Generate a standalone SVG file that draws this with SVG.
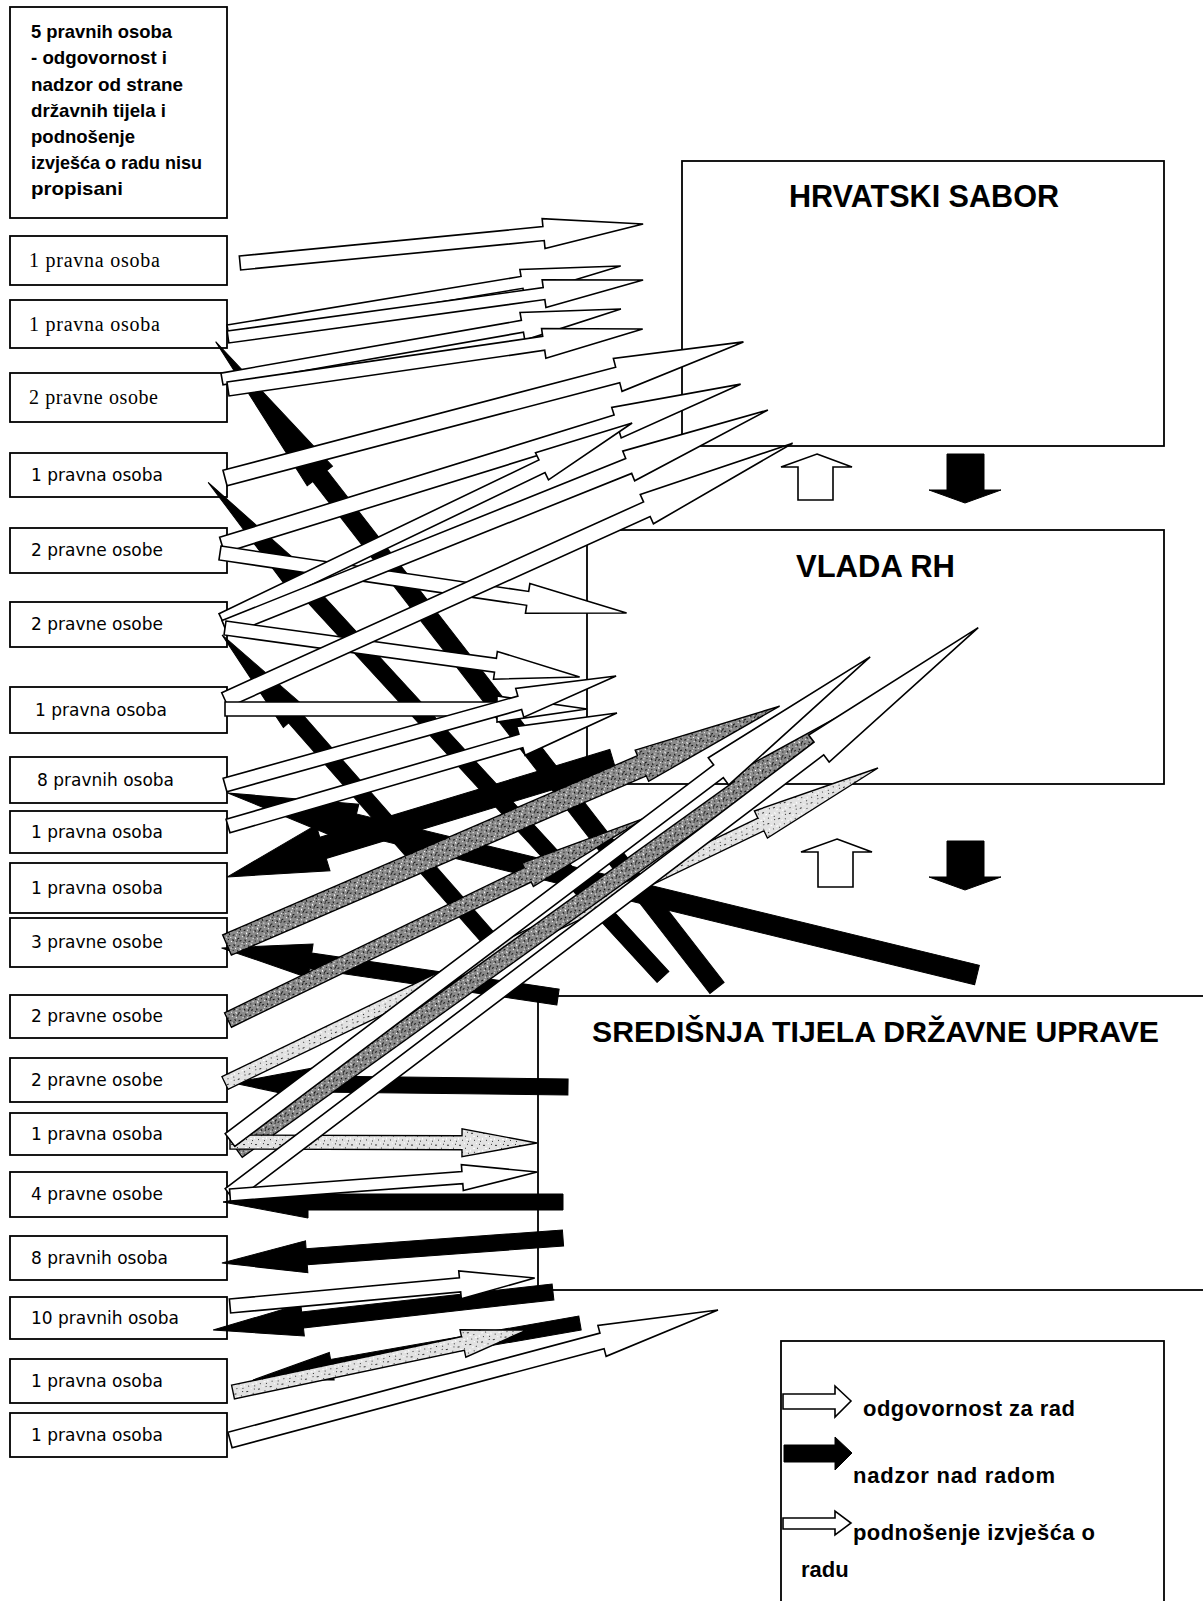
<svg xmlns="http://www.w3.org/2000/svg" width="1203" height="1601" viewBox="0 0 1203 1601">
<defs>
<style>
.bx{fill:#fff;stroke:#000;stroke-width:1.8}
.w{fill:#fff;stroke:#000;stroke-width:1.6;stroke-linejoin:miter}
.b{fill:#000;stroke:#000;stroke-width:1}
.gd{fill:url(#dk);stroke:#000;stroke-width:1.4}
.gl{fill:url(#lt);stroke:#000;stroke-width:1.4}
.serif{font-family:"Liberation Serif","Times New Roman",serif;font-size:20px;fill:#000}
.sans{font-family:"DejaVu Sans","Noto Sans",sans-serif;font-size:17px;fill:#000}
.bold{font-family:"Liberation Sans",Arial,sans-serif;font-weight:bold;fill:#000}
</style>
<pattern id="dk" width="12" height="12" patternUnits="userSpaceOnUse">
<rect width="12" height="12" fill="#8a8a8a"/>
<path d="M1 1h2v1H1zM6 2h1v2H6zM9 5h2v1H9zM3 7h1v1H3zM0 10h2v1H0zM7 9h1v2H7zM10 0h1v1h-1zM4 4h1v1H4zM11 11h1v1h-1z" fill="#111"/>
<path d="M2 4h1v1H2zM8 1h1v1H8zM5 10h1v1H5zM10 8h1v2h-1zM0 6h1v1H0zM6 6h1v1H6z" fill="#fff"/>
</pattern>
<pattern id="lt" width="12" height="12" patternUnits="userSpaceOnUse">
<rect width="12" height="12" fill="#e2e2e2"/>
<path d="M1 2h2v1H1zM7 5h1v1H7zM4 9h1v1H4zM10 10h1v1h-1zM9 1h1v1H9z" fill="#333"/>
<path d="M3 5h2v1H3zM8 8h2v1H8zM0 7h1v2H0zM6 0h1v1H6z" fill="#fff"/>
</pattern>
</defs>
<rect width="1203" height="1601" fill="#fff"/>

<g id="hrvatski-sabor">
<rect class="bx" x="682" y="161" width="482" height="285"/>
<text class="bold" x="789" y="207" font-size="31" textLength="270" lengthAdjust="spacingAndGlyphs">HRVATSKI SABOR</text>
</g>
<g id="vlada-rh">
<rect class="bx" x="587" y="530" width="577" height="254"/>
<text class="bold" x="796" y="577" font-size="31" textLength="159" lengthAdjust="spacingAndGlyphs">VLADA RH</text>
</g>
<g id="sredisnja-tijela">
<rect class="bx" x="538" y="996" width="700" height="294"/>
<text class="bold" x="592" y="1042" font-size="30" textLength="567" lengthAdjust="spacingAndGlyphs">SREDIŠNJA TIJELA DRŽAVNE UPRAVE</text>
</g>

<g id="n-top">
<rect class="bx" x="10" y="7" width="217" height="211"/>
<g class="bold" font-size="18.5" lengthAdjust="spacingAndGlyphs">
<text x="31" y="38" textLength="141" lengthAdjust="spacingAndGlyphs">5 pravnih osoba</text>
<text x="31" y="64" textLength="136" lengthAdjust="spacingAndGlyphs">- odgovornost i</text>
<text x="31" y="91" textLength="152" lengthAdjust="spacingAndGlyphs">nadzor od strane</text>
<text x="31" y="117" textLength="135" lengthAdjust="spacingAndGlyphs">državnih tijela i</text>
<text x="31" y="143" textLength="104" lengthAdjust="spacingAndGlyphs">podnošenje</text>
<text x="31" y="169" textLength="171" lengthAdjust="spacingAndGlyphs">izvješća o radu nisu</text>
<text x="31" y="195" textLength="92" lengthAdjust="spacingAndGlyphs">propisani</text>
</g>
</g>
<g id="n2"><rect class="bx" x="10" y="236" width="217" height="49"/><text class="serif" x="29" y="267" textLength="131">1 pravna osoba</text></g>
<g id="n3"><rect class="bx" x="10" y="300" width="217" height="48"/><text class="serif" x="29" y="331" textLength="131">1 pravna osoba</text></g>
<g id="n4"><rect class="bx" x="10" y="373" width="217" height="49"/><text class="serif" x="29" y="404" textLength="129">2 pravne osobe</text></g>
<g id="n5"><rect class="bx" x="10" y="453" width="217" height="44"/><text class="sans" x="31" y="481">1 pravna osoba</text></g>
<g id="n6"><rect class="bx" x="10" y="528" width="217" height="45"/><text class="sans" x="31" y="556">2 pravne osobe</text></g>
<g id="n7"><rect class="bx" x="10" y="602" width="217" height="45"/><text class="sans" x="31" y="630">2 pravne osobe</text></g>
<g id="n8"><rect class="bx" x="10" y="687" width="217" height="46"/><text class="sans" x="35" y="716">1 pravna osoba</text></g>
<g id="n9"><rect class="bx" x="10" y="757" width="217" height="46"/><text class="sans" x="37" y="786">8 pravnih osoba</text></g>
<g id="n10"><rect class="bx" x="10" y="811" width="217" height="42"/><text class="sans" x="31" y="838">1 pravna osoba</text></g>
<g id="n11"><rect class="bx" x="10" y="863" width="217" height="50"/><text class="sans" x="31" y="894">1 pravna osoba</text></g>
<g id="n12"><rect class="bx" x="10" y="918" width="217" height="49"/><text class="sans" x="31" y="948">3 pravne osobe</text></g>
<g id="n13"><rect class="bx" x="10" y="995" width="217" height="43"/><text class="sans" x="31" y="1022">2 pravne osobe</text></g>
<g id="n14"><rect class="bx" x="10" y="1058" width="217" height="44"/><text class="sans" x="31" y="1086">2 pravne osobe</text></g>
<g id="n15"><rect class="bx" x="10" y="1113" width="217" height="42"/><text class="sans" x="31" y="1140">1 pravna osoba</text></g>
<g id="n16"><rect class="bx" x="10" y="1172" width="217" height="45"/><text class="sans" x="31" y="1200">4 pravne osobe</text></g>
<g id="n17"><rect class="bx" x="10" y="1236" width="217" height="44"/><text class="sans" x="31" y="1264">8 pravnih osoba</text></g>
<g id="n18"><rect class="bx" x="10" y="1297" width="217" height="42"/><text class="sans" x="31" y="1324">10 pravnih osoba</text></g>
<g id="n19"><rect class="bx" x="10" y="1359" width="217" height="44"/><text class="sans" x="31" y="1387">1 pravna osoba</text></g>
<g id="n20"><rect class="bx" x="10" y="1413" width="217" height="44"/><text class="sans" x="31" y="1441">1 pravna osoba</text></g>

<g id="legend">
<rect class="bx" x="781" y="1341" width="383" height="300"/>
<path class="w" d="M783,1394H835V1386L851,1401L835,1417V1409H783Z"/>
<path class="b" d="M784,1445H835V1437L852,1453L835,1470V1462H784Z"/>
<path class="w" d="M783,1518H835V1511L851,1523L835,1535V1529H783Z"/>
<text class="bold" x="863" y="1416" font-size="22" textLength="212">odgovornost za rad</text>
<text class="bold" x="853" y="1483" font-size="22" textLength="202">nadzor nad radom</text>
<text class="bold" x="853" y="1540" font-size="22" textLength="242">podnošenje izvješća o</text>
<text class="bold" x="801" y="1577" font-size="22">radu</text>
</g>

<g id="connectors">
<path class="w" d="M817,454L852,467H833V500H798V467H781Z"/>
<path class="b" d="M947,454H984V490H1001L965,503L929,490H947Z"/>
<path class="w" d="M837,839L872,852H853V887H818V852H801Z"/>
<path class="b" d="M947,841H984V877H1001L965,890L929,877H947Z"/>

<path class="b" transform="translate(717 988) rotate(-127.8)" d="M0,-9H648V-16L818,0L648,16V9H0Z"/>
<path class="b" transform="translate(663 977) rotate(-132.6)" d="M0,-8H522V-15L672,0L522,15V8H0Z"/>
<path class="b" transform="translate(490 940) rotate(-131.3)" d="M0,-8H296V-15L406,0L296,15V8H0Z"/>
<path class="b" transform="translate(613 760) rotate(163.14)" d="M0,-11H303V-24L403,0L303,24V11H0Z"/>
<path class="b" transform="translate(558 997) rotate(-171.7)" d="M0,-8H250V-17L340,0L250,17V8H0Z"/>
<path class="b" transform="translate(977 975) rotate(-166.34)" d="M0,-10H641V-20L771,0L641,20V10H0Z"/>
<path class="b" transform="translate(568 1087) rotate(-179.3)" d="M0,-8H255V-16L335,0L255,16V8H0Z"/>
<path class="b" transform="translate(563 1202) rotate(180)" d="M0,-8H255V-16L340,0L255,16V8H0Z"/>
<path class="b" transform="translate(563 1238) rotate(175.81)" d="M0,-8H257V-16L342,0L257,16V8H0Z"/>
<path class="b" transform="translate(553 1292) rotate(173.62)" d="M0,-8H252V-16L342,0L252,16V8H0Z"/>
<path class="b" transform="translate(580 1323) rotate(170.11)" d="M0,-7H252V-14L332,0L252,14V7H0Z"/>

<path class="w" transform="translate(240 263) rotate(-5.53)" d="M0,-7H305V-15L405,0L305,15V7H0Z"/>
<path class="w" transform="translate(228 331) rotate(-9.39)" d="M0,-6H298V-13L398,0L298,13V6H0Z"/>
<path class="w" transform="translate(228 337) rotate(-7.82)" d="M0,-6H319V-14L419,0L319,14V6H0Z"/>
<path class="w" transform="translate(222 379) rotate(-9.95)" d="M0,-6H305V-14L405,0L305,14V6H0Z"/>
<path class="w" transform="translate(228 389) rotate(-8.23)" d="M0,-7H319V-15L419,0L319,15V7H0Z"/>
<path class="w" transform="translate(225 478) rotate(-14.71)" d="M0,-8H406V-17L536,0L406,17V8H0Z"/>
<path class="w" transform="translate(222 545) rotate(-17.23)" d="M0,-8H413V-16L543,0L413,16V8H0Z"/>
<path class="w" transform="translate(220 553) rotate(8.39)" d="M0,-7H311V-15L411,0L311,15V7H0Z"/>
<path class="w" transform="translate(222 620) rotate(-25.66)" d="M0,-7H355V-15L455,0L355,15V7H0Z"/>
<path class="w" transform="translate(225 628) rotate(-21.87)" d="M0,-8H435V-16L585,0L435,16V8H0Z"/>
<path class="w" transform="translate(225 628) rotate(7.86)" d="M0,-7H273V-14L358,0L273,14V7H0Z"/>
<path class="w" transform="translate(225 700) rotate(-24.34)" d="M0,-8H463V-16L623,0L463,16V8H0Z"/>
<path class="w" transform="translate(225 709)" d="M0,-7H272V-13L362,0L272,13V7H0Z"/>
<path class="w" transform="translate(225 785) rotate(-15.58)" d="M0,-7H306V-15L406,0L306,15V7H0Z"/>
<path class="w" transform="translate(228 826) rotate(-16.2)" d="M0,-7H305V-15L405,0L305,15V7H0Z"/>

<path class="gd" transform="translate(227 945) rotate(-23.37)" d="M0,-11H452V-17L602,0L452,17V11H0Z"/>
<path class="gd" transform="translate(228 1020) rotate(-25.85)" d="M0,-8H333V-13L463,0L333,13V8H0Z"/>
<path class="gl" transform="translate(225 1083) rotate(-25.75)" d="M0,-7H595V-15L725,0L595,15V7H0Z"/>
<path class="gd" transform="translate(237 1150) rotate(-35.71)" d="M0,-9H619V-16L749,0L619,16V9H0Z"/>
<path class="gl" transform="translate(230 1142) rotate(0.19)" d="M0,-7H232V-14L307,0L232,14V7H0Z"/>
<path class="gl" transform="translate(233 1392) rotate(-11.91)" d="M0,-7H235V-14L300,0L235,14V7H0Z"/>

<path class="w" transform="translate(230 1140) rotate(-37.04)" d="M0,-8H612V-17L802,0L612,17V8H0Z"/>
<path class="w" transform="translate(230 1195) rotate(-37.17)" d="M0,-8H739V-17L939,0L739,17V8H0Z"/>
<path class="w" transform="translate(230 1195) rotate(-4.28)" d="M0,-6H233V-13L308,0L233,13V6H0Z"/>
<path class="w" transform="translate(230 1306) rotate(-5.25)" d="M0,-7H231V-14L306,0L231,14V7H0Z"/>
<path class="w" transform="translate(230 1440) rotate(-14.92)" d="M0,-8H385V-16L505,0L385,16V8H0Z"/>
</g>
</svg>
